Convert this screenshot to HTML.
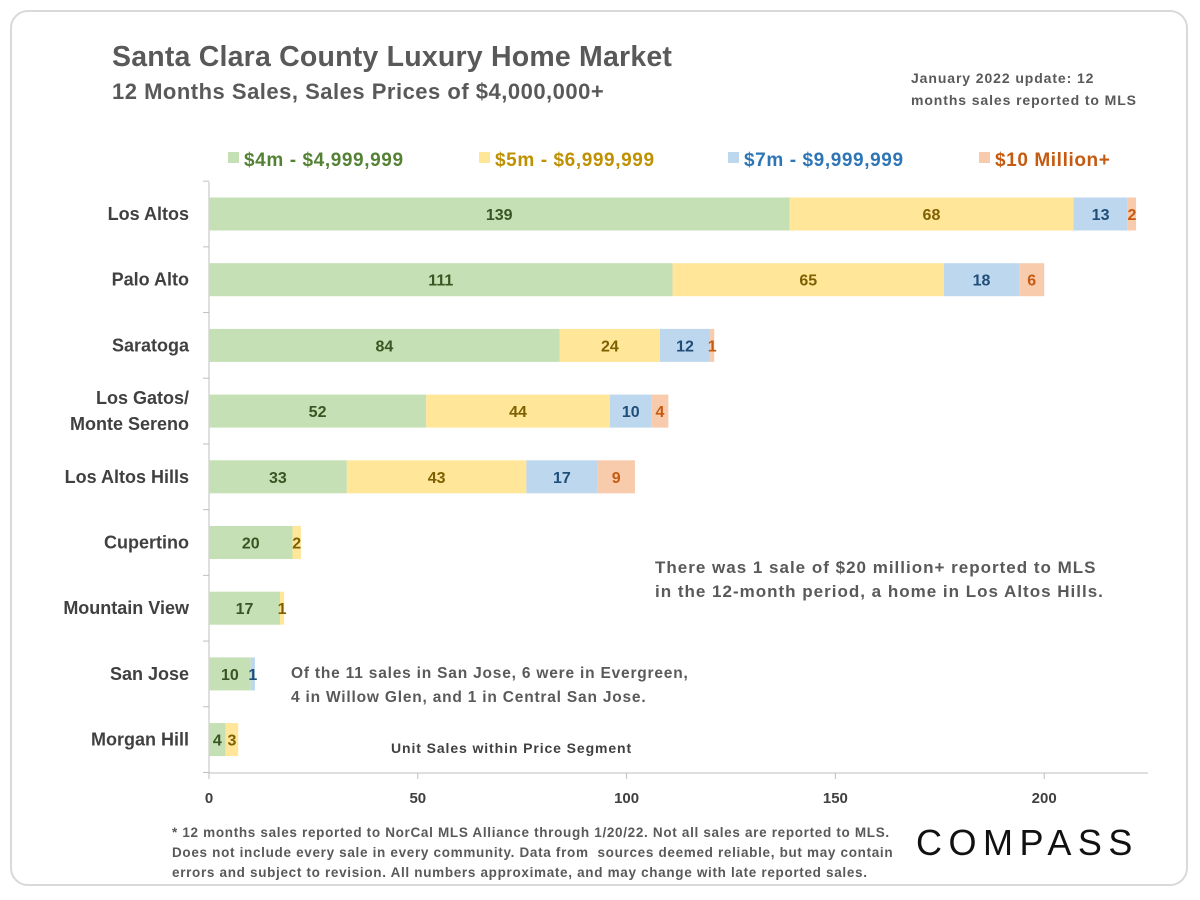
<!DOCTYPE html>
<html><head><meta charset="utf-8"><style>
body{margin:0;background:#fff;font-family:"Liberation Sans",sans-serif;}
#card{position:absolute;left:10px;top:10px;width:1178px;height:876px;border:2px solid #d9d9d9;border-radius:18px;box-sizing:border-box;}
.t{position:absolute;font-weight:bold;color:#595959;white-space:nowrap;}
</style></head><body>
<div id="card"></div>
<div class="t" style="left:112px;top:41px;font-size:28.5px;letter-spacing:0.2px;">Santa Clara County Luxury Home Market</div>
<div class="t" style="left:112px;top:79px;font-size:22px;letter-spacing:0.5px;">12 Months Sales, Sales Prices of $4,000,000+</div>
<div class="t" style="left:911px;top:67px;font-size:14px;line-height:22px;letter-spacing:0.9px;">January 2022 update: 12<br>months sales reported to MLS</div>
<svg id="chart" width="1200" height="900" style="position:absolute;left:0;top:0"></svg>
<script>
const categories=["Los Altos","Palo Alto","Saratoga","Los Gatos/|Monte Sereno","Los Altos Hills","Cupertino","Mountain View","San Jose","Morgan Hill"];
const s4m=[139,111,84,52,33,20,17,10,4];
const s5m=[68,65,24,44,43,2,1,0,3];
const s7m=[13,18,12,10,17,0,0,1,0];
const s10m=[2,6,1,4,9,0,0,0,0];
const seriesNames=["$4m - $4,999,999","$5m - $6,999,999","$7m - $9,999,999","$10 Million+"];
const xTicks=[0,50,100,150,200];
const fills=["#c5e0b4","#ffe699","#bdd7ee","#f8cbad"];
const labelCols=["#375623","#7f6000","#1f4e79","#c55a11"];
const legendCols=["#548235","#bf9000","#2e75b6","#c55a11"];
const NS="http://www.w3.org/2000/svg",svg=document.getElementById("chart");
const x=v=>209+v*4.176, yC=i=>214+i*65.7, bh=33;
function mk(t,a,txt){const e=document.createElementNS(NS,t);for(const k in a)e.setAttribute(k,a[k]);if(txt!=null)e.textContent=txt;svg.appendChild(e);return e;}
let ax=mk("line",{x1:209,y1:182,x2:209,y2:773,stroke:"#bfbfbf","stroke-width":1});


let bx=mk("line",{x1:209,y1:773,x2:1148,y2:773,stroke:"#bfbfbf","stroke-width":1});


for(let i=0;i<=categories.length;i++){const yy=yC(i)-32.85;const tk=mk("line",{x1:203,y1:yy,x2:209,y2:yy,stroke:"#bfbfbf"});

}
xTicks.forEach(v=>{const t=mk("text",{x:x(v),y:803,"text-anchor":"middle","font-size":15,"font-weight":"bold",fill:"#404040"},v);


const tk=mk("line",{x1:x(v),y1:773,x2:x(v),y2:779,stroke:"#bfbfbf"});

});
const series=[s4m,s5m,s7m,s10m];
categories.forEach((c,i)=>{
 const lines=c.split("|");
 lines.forEach((ln,j)=>{const t=mk("text",{x:189,y:yC(i)+6+(j-(lines.length-1)/2)*26,"text-anchor":"end","font-size":18,"font-weight":"bold",fill:"#404040"},ln);
 
 });
 let acc=0;
 series.forEach((s,k)=>{const v=s[i];if(!v)return;
  const r=mk("rect",{x:x(acc),y:yC(i)-bh/2,width:x(acc+v)-x(acc),height:bh,fill:fills[k]});
  
  
  const t=mk("text",{x:(x(acc)+x(acc+v))/2,y:yC(i)+6,"text-anchor":"middle","font-size":16,"font-weight":"bold",fill:labelCols[k]},v);
  
  
  acc+=v;});
});
const lx=[228,479,728,979];
seriesNames.forEach((n,k)=>{const r=mk("rect",{x:lx[k],y:152,width:11,height:11,fill:fills[k]});


const t=mk("text",{x:lx[k]+16,y:166,"font-size":19,"font-weight":"bold",fill:legendCols[k],"letter-spacing":0.6},n);

});
</script>
<div class="t" style="left:655px;top:556px;font-size:17px;line-height:24px;letter-spacing:1px;">There was 1 sale of $20 million+ reported to MLS<br>in the 12-month period, a home in Los Altos Hills.</div>
<div class="t" style="left:291px;top:662px;font-size:15.5px;line-height:24px;letter-spacing:0.8px;">Of the 11 sales in San Jose, 6 were in Evergreen,<br>4 in Willow Glen, and 1 in Central San Jose.</div>
<div class="t" style="left:391px;top:740px;font-size:14px;color:#404040;letter-spacing:0.9px;">Unit Sales within Price Segment</div>
<div class="t" style="left:172px;top:823px;font-size:13.5px;line-height:20px;letter-spacing:0.68px;">* 12 months sales reported to NorCal MLS Alliance through 1/20/22. Not all sales are reported to MLS.<br>Does not include every sale in every community. Data from&nbsp; sources deemed reliable, but may contain<br>errors and subject to revision. All numbers approximate, and may change with late reported sales.</div>
<div style="position:absolute;left:916px;top:822px;font-size:36px;letter-spacing:6.5px;color:#111;font-family:'Liberation Sans',sans-serif;">COMPASS</div>
</body></html>
